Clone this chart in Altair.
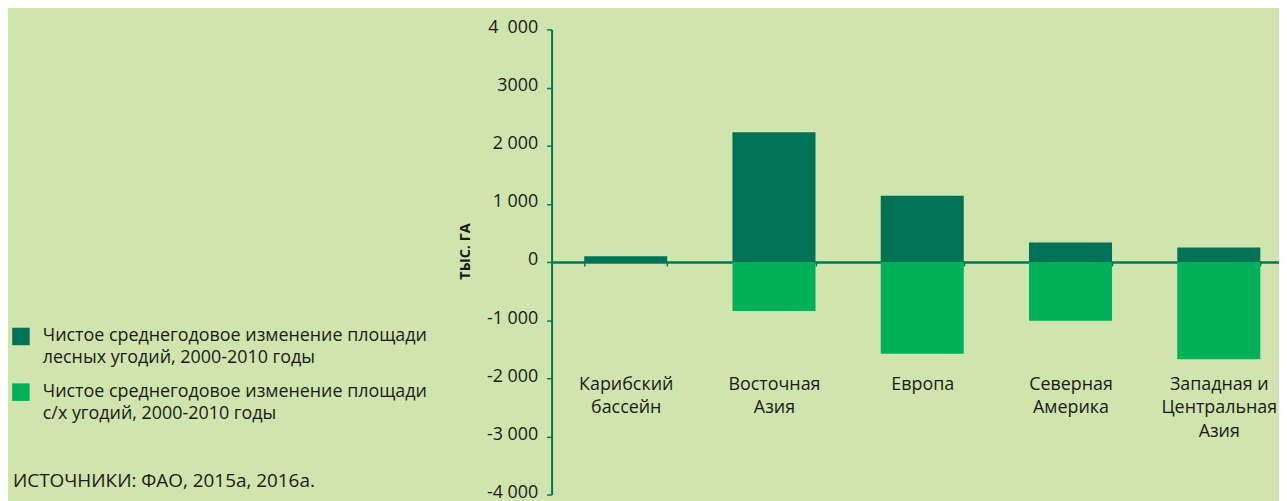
import altair as alt
import pandas as pd

# ---- data ----
regions = ["Карибский|бассейн", "Восточная|Азия", "Европа", "Северная|Америка",
           "Западная и|Центральная|Азия"]
forest = [100, 2230, 1140, 335, 250]
agri = [0, -845, -1580, -1010, -1675]
series = ["Чистое среднегодовое изменение площади|лесных угодий, 2000-2010 годы",
          "Чистое среднегодовое изменение площади|с/х угодий, 2000-2010 годы"]
colors = ["#007256", "#00B159"]
y_ticks = [4000, 3000, 2000, 1000, 0, -1000, -2000, -3000, -4000]
y_tick_labels = ["4\u2002000", "3000", "2 000", "1 000", "0", "-1 000", "-2 000", "-3 000", "-4 000"]
y_title = "ТЫС. ГА"
source = "ИСТОЧНИКИ: ФАО, 2015а, 2016а."

rows = []
for i, r in enumerate(regions):
    rows.append({"region": r, "series": series[0], "value": forest[i], "order": 0})
    rows.append({"region": r, "series": series[1], "value": agri[i], "order": 1})
df = pd.DataFrame(rows)

label_expr = "''"
for v, l in zip(reversed(y_ticks), reversed(y_tick_labels)):
    label_expr = f"datum.value == {v} ? '{l}' : ({label_expr})"

FONT = "Open Sans"
TXT = "#1a1a1a"
AX = "#00785A"
PL = 547
W, H = 732, 468

bars = alt.Chart(df).mark_bar().encode(
    x=alt.X("region:N", sort=regions,
            scale=alt.Scale(range=[0, 746], paddingInner=0.44, paddingOuter=0.22),
            axis=alt.Axis(title=None, orient="bottom", offset=-H / 2, labelAngle=0,
                          labelExpr="split(datum.label, '|')", labelLineHeight=24,
                          labelBaseline="top", labelPadding=110, labelFontSize=18,
                          labelColor=TXT, labelFont=FONT, domainColor=AX, domainWidth=2.5,
                          tickBand="extent", tickSize=4, tickColor=AX, tickWidth=1.5)),
    y=alt.Y("value:Q", stack="zero",
            scale=alt.Scale(domain=[-4000, 4000], nice=False),
            axis=alt.Axis(title=y_title, values=y_ticks, labelExpr=label_expr,
                          labelFontSize=18, labelColor=TXT, labelFont=FONT, labelPadding=9,
                          labelBaseline="middle", labelOffset=-2,
                          domainColor=AX, domainWidth=2, tickColor=AX, tickSize=5, tickWidth=1.5,
                          grid=False, titleFont=FONT, titleFontSize=14.5, titleFontWeight="bold",
                          titleColor=TXT, titleAngle=270, titleAlign="center",
                          titleBaseline="alphabetic", titleX=-83, titleY=223)),
    color=alt.Color("series:N", sort=series,
                    scale=alt.Scale(domain=series, range=colors),
                    legend=alt.Legend(title=None, orient="none", legendX=-(PL - 4), legendY=300,
                                      symbolType="square", symbolSize=310, symbolStrokeWidth=0,
                                      labelExpr="split(datum.label, '|')", labelFontSize=18,
                                      labelFont=FONT, labelColor=TXT,
                                      labelLimit=600, labelOffset=13, rowPadding=16,
                                      labelBaseline="middle")),
    order=alt.Order("order:Q"),
)

src = alt.Chart(pd.DataFrame({"t": [source]})).mark_text(
    align="left", baseline="middle", fontSize=19, font=FONT, color=TXT
).encode(x=alt.value(-(PL - 5)), y=alt.value(454), text="t:N")

chart = alt.layer(bars, src).properties(
    width=W, height=H, background="#CFE5AD",
    padding={"left": PL, "top": 20, "right": 0, "bottom": 5},
    autosize=alt.AutoSizeParams(type="none"),
).configure(style={"guide-label": {"lineHeight": 22}}).configure_view(stroke=None)

chart.save("out.html", embed_options={"renderer": "svg", "actions": False})
